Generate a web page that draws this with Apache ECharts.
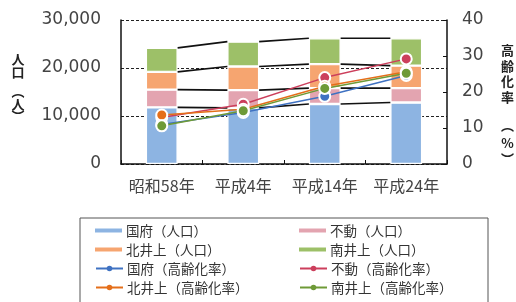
<!DOCTYPE html>
<html><head><meta charset="utf-8">
<script src="https://cdn.jsdelivr.net/npm/echarts@6/dist/echarts.min.js"></script>
<style>html,body{margin:0;padding:0;background:#fff}#c{width:516px;height:302px}</style>
</head><body><div id="c"></div>
<script>
const categories = ['昭和58年', '平成4年', '平成14年', '平成24年'];
const popKokufu = [11800, 11700, 12500, 12800];
const popFudo = [3700, 3700, 3300, 3000];
const popKitaikegami = [3700, 4900, 5000, 4700];
const popMinamiikegami = [5000, 5200, 5400, 5700];
const rateKokufu = [11.0, 14.3, 18.8, 24.6];
const rateFudo = [12.9, 16.6, 24.0, 29.2];
const rateKitaikegami = [13.6, 15.2, 21.6, 25.6];
const rateMinamiikegami = [10.6, 14.8, 21.0, 25.2];
const leftTicks = [0, 10000, 20000, 30000];
const rightTicks = [0, 10, 20, 30, 40];

const popNames = ['国府（人口）', '不動（人口）', '北井上（人口）', '南井上（人口）'];
const rateNames = ['国府（高齢化率）', '不動（高齢化率）', '北井上（高齢化率）', '南井上（高齢化率）'];
const popData = [popKokufu, popFudo, popKitaikegami, popMinamiikegami];
const rateData = [rateKokufu, rateFudo, rateKitaikegami, rateMinamiikegami];
const barColors = ['#8db4e2', '#e3a4b0', '#f6a570', '#9dc068'];
const lineColors = ['#3f72c2', '#cc3f5c', '#e46f1a', '#6e9a37'];
const BAR_RATIO = 0.39;

// cumulative stacked tops for connector lines
const connectorData = [];
let cum = categories.map(() => 0);
popData.forEach(arr => {
  cum = cum.map((c, i) => c + arr[i]);
  for (let i = 0; i < categories.length - 1; i++) connectorData.push([i, cum[i], cum[i + 1]]);
});

const CJK = '"Noto Sans CJK JP", "Noto Sans", sans-serif';
const series = [];
popNames.forEach((n, k) => series.push({
  name: n, type: 'bar', stack: 'pop', yAxisIndex: 0, barWidth: (BAR_RATIO * 100) + '%',
  data: popData[k], itemStyle: { color: barColors[k], borderColor: '#fff', borderWidth: 1.2 }, z: 2
}));
series.push({
  type: 'custom', name: 'connector', yAxisIndex: 0, z: 3, silent: true,
  encode: { x: 0, y: [1, 2] }, data: connectorData,
  renderItem: function (params, api) {
    const i = api.value(0);
    const a = api.coord([i, api.value(1)]);
    const b = api.coord([i + 1, api.value(2)]);
    const half = api.size([1, 0])[0] * BAR_RATIO / 2;
    return { type: 'line', shape: { x1: a[0] + half, y1: a[1], x2: b[0] - half, y2: b[1] },
      style: { stroke: '#111', lineWidth: 1.6 } };
  }
});
rateNames.forEach((n, k) => series.push({
  name: n, type: 'line', yAxisIndex: 1, data: rateData[k], symbol: 'circle', symbolSize: 11,
  lineStyle: { color: lineColors[k], width: 1.5 },
  itemStyle: { color: lineColors[k], borderColor: '#fff', borderWidth: 2 }, z: 5
}));

function legend(names, left, top, ih, icon) {
  const l = { show: true, orient: 'vertical', left: left, top: top, itemWidth: 27, itemHeight: ih,
    itemGap: 5, padding: 0, data: names,
    textStyle: { fontFamily: CJK, fontSize: 13.5, color: '#333', lineHeight: 14, padding: [0, 0, 0, -1] } };
  if (icon) { l.icon = icon; l.itemStyle = { borderColor: 'inherit', borderWidth: 0 }; }
  else { l.itemStyle = { borderWidth: 0 }; }
  return l;
}

const chart = echarts.init(document.getElementById('c'), null, { renderer: 'canvas' });
chart.setOption({
  animation: false,
  backgroundColor: '#fff',
  grid: { left: 121, right: 69, top: 20, bottom: 138 },
  legend: [
    legend([popNames[0], popNames[2]], 95, 223.5, 4, 'rect'),
    legend([popNames[1], popNames[3]], 299, 223.5, 4, 'rect'),
    legend([rateNames[0], rateNames[2]], 95, 261.5, 7),
    legend([rateNames[1], rateNames[3]], 299, 261.5, 7)
  ],
  xAxis: {
    type: 'category', data: categories,
    axisLine: { lineStyle: { color: '#111', width: 1.5 } },
    axisTick: { show: true, inside: true, length: 4, interval: 0, lineStyle: { color: '#111' } },
    axisLabel: { fontFamily: CJK, fontSize: 16, color: '#444', margin: 14, interval: 0 }
  },
  yAxis: [{
    type: 'value', min: leftTicks[0], max: leftTicks[leftTicks.length - 1], interval: leftTicks[1] - leftTicks[0],
    axisLine: { show: true, lineStyle: { color: '#111', width: 1.5 } }, axisTick: { show: false },
    axisLabel: { fontFamily: '"DejaVu Sans", sans-serif', fontSize: 17, color: '#444', margin: 20,
      formatter: v => v.toLocaleString('en-US') },
    splitLine: { show: true, lineStyle: { color: '#222', type: [3, 2], width: 1 } }
  }, {
    type: 'value', min: rightTicks[0], max: rightTicks[rightTicks.length - 1], interval: rightTicks[1] - rightTicks[0],
    position: 'right',
    axisLine: { show: true, lineStyle: { color: '#111', width: 1.5 } },
    axisTick: { show: true, inside: true, length: 4, lineStyle: { color: '#111' } },
    axisLabel: { fontFamily: '"DejaVu Sans", sans-serif', fontSize: 17, color: '#444', margin: 15 },
    splitLine: { show: false }
  }],
  graphic: [
    { type: 'rect', shape: { x: 80, y: 218, width: 408, height: 120 }, style: { fill: 'none', stroke: '#555', lineWidth: 1 }, silent: true },
    { type: 'group', children: [
      ['人', 59], ['口', 72], ['︵', 91], ['人', 104], ['︶', 116]
    ].map(([t, y]) => ({ type: 'text', x: 18, y: y, style: { text: t, fontFamily: CJK, fontSize: 13, fontWeight: 'bold', fill: '#222', align: 'center', verticalAlign: 'middle' } })) },
    { type: 'group', children: [
      ['高', 50], ['齢', 66], ['化', 81.5], ['率', 97], ['︵', 125], ['%', 143], ['︶', 159]
    ].map(([t, y]) => ({ type: 'text', x: 507.5, y: y, style: { text: t, fontFamily: CJK, fontSize: 13, fontWeight: 'bold', fill: '#222', align: 'center', verticalAlign: 'middle' } })) }
  ],
  series: series
});
</script></body></html>
